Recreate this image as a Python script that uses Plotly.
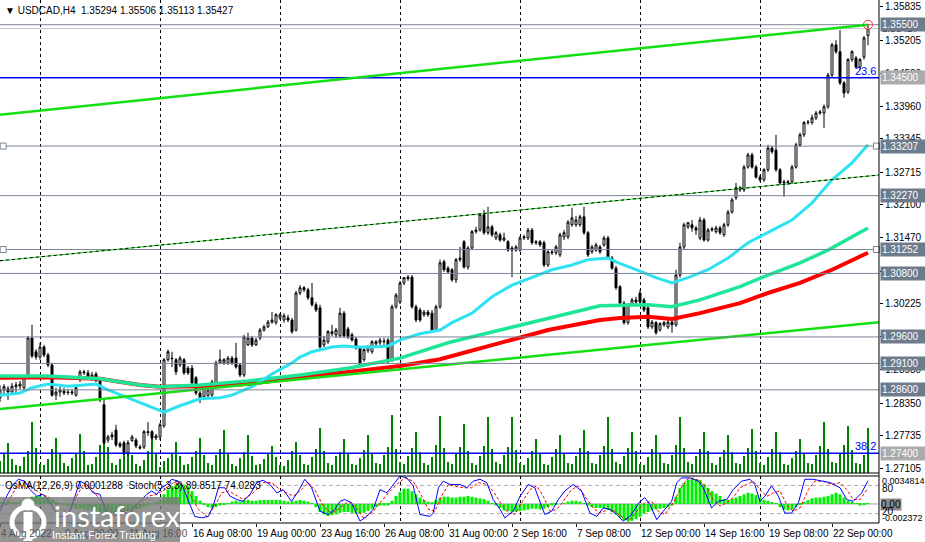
import plotly.graph_objects as go

# ---------------- data ----------------
label_idx = [0, 16, 32, 48, 64, 80, 96, 112, 128, 144, 160, 176, 192, 208]
label_txt = ["4 Aug 2022", "9 Aug 00:00", "11 Aug 16:00", "16 Aug 08:00", "19 Aug 00:00",
             "23 Aug 16:00", "26 Aug 08:00", "31 Aug 00:00", "2 Sep 16:00", "7 Sep 08:00",
             "12 Sep 00:00", "14 Sep 16:00", "19 Sep 08:00", "22 Sep 00:00"]

ohlc = [
(1.2845,1.2869,1.2837,1.2860),(1.2860,1.2871,1.2850,1.2866),(1.2862,1.2867,1.2841,1.2856),(1.2856,1.2873,1.2852,1.2867),
(1.2866,1.2875,1.2856,1.2869),(1.2867,1.2877,1.2860,1.2871),(1.2864,1.2888,1.2860,1.2884),(1.2884,1.2962,1.2881,1.2958),
(1.2958,1.2983,1.2920,1.2924),(1.2932,1.2937,1.2917,1.2922),(1.2922,1.2949,1.2917,1.2941),(1.2941,1.2945,1.2922,1.2926),
(1.2926,1.2930,1.2903,1.2907),(1.2907,1.2911,1.2847,1.2850),(1.2850,1.2864,1.2841,1.2856),(1.2856,1.2866,1.2847,1.2860),
(1.2854,1.2864,1.2850,1.2858),(1.2856,1.2862,1.2850,1.2855),(1.2854,1.2862,1.2850,1.2856),(1.2850,1.2869,1.2847,1.2864),
(1.2879,1.2898,1.2875,1.2894),(1.2892,1.2898,1.2888,1.2894),(1.2892,1.2898,1.2879,1.2883),(1.2883,1.2894,1.2877,1.2888),
(1.2890,1.2894,1.2875,1.2877),(1.2879,1.2883,1.2837,1.2841),(1.2832,1.2841,1.2756,1.2760),(1.2765,1.2775,1.2760,1.2771),
(1.2771,1.2781,1.2765,1.2775),(1.2784,1.2794,1.2752,1.2756),(1.2758,1.2762,1.2750,1.2754),(1.2760,1.2764,1.2737,1.2741),
(1.2741,1.2765,1.2735,1.2760),(1.2764,1.2775,1.2762,1.2771),(1.2765,1.2769,1.2750,1.2754),(1.2752,1.2756,1.2747,1.2750),
(1.2752,1.2784,1.2748,1.2781),(1.2779,1.2799,1.2773,1.2781),(1.2781,1.2784,1.2765,1.2769),(1.2769,1.2777,1.2765,1.2773),
(1.2771,1.2798,1.2765,1.2794),(1.2792,1.2920,1.2788,1.2917),(1.2917,1.2936,1.2913,1.2932),(1.2920,1.2932,1.2903,1.2919),
(1.2917,1.2920,1.2888,1.2894),(1.2907,1.2924,1.2903,1.2920),(1.2917,1.2920,1.2888,1.2892),(1.2901,1.2905,1.2888,1.2892),
(1.2901,1.2907,1.2869,1.2873),(1.2883,1.2886,1.2850,1.2854),(1.2854,1.2858,1.2835,1.2845),(1.2847,1.2869,1.2843,1.2866),
(1.2849,1.2864,1.2845,1.2860),(1.2850,1.2879,1.2847,1.2875),(1.2873,1.2915,1.2869,1.2911),(1.2911,1.2936,1.2909,1.2917),
(1.2911,1.2920,1.2907,1.2917),(1.2911,1.2924,1.2907,1.2920),(1.2920,1.2924,1.2907,1.2911),(1.2920,1.2949,1.2900,1.2903),
(1.2907,1.2911,1.2884,1.2888),(1.2888,1.2964,1.2884,1.2960),(1.2945,1.2968,1.2943,1.2958),(1.2958,1.2962,1.2941,1.2945),
(1.2945,1.2958,1.2943,1.2954),(1.2958,1.2977,1.2954,1.2973),(1.2973,1.2983,1.2970,1.2979),(1.2979,1.2992,1.2977,1.2988),
(1.2988,1.3007,1.2985,1.2992),(1.2987,1.3005,1.2983,1.3002),(1.2996,1.3005,1.2992,1.3002),(1.2992,1.3005,1.2987,1.3000),
(1.2996,1.3002,1.2988,1.2992),(1.2992,1.2996,1.2966,1.2970),(1.2973,1.3047,1.2970,1.3043),(1.3043,1.3058,1.3039,1.3053),
(1.3053,1.3056,1.3045,1.3049),(1.3049,1.3053,1.3030,1.3034),(1.3034,1.3062,1.3017,1.3021),(1.3021,1.3026,1.3007,1.3011),
(1.3015,1.3021,1.2936,1.2941),(1.2945,1.2962,1.2941,1.2954),(1.2951,1.2973,1.2947,1.2970),(1.2966,1.2983,1.2962,1.2970),
(1.2964,1.2977,1.2958,1.2973),(1.2962,1.3015,1.2958,1.3005),(1.3005,1.3009,1.2958,1.2962),(1.2975,1.2979,1.2956,1.2960),
(1.2964,1.2968,1.2951,1.2954),(1.2956,1.2960,1.2936,1.2939),(1.2939,1.2943,1.2903,1.2907),(1.2917,1.2939,1.2913,1.2936),
(1.2934,1.2945,1.2930,1.2941),(1.2932,1.2954,1.2928,1.2951),(1.2947,1.2954,1.2943,1.2951),(1.2949,1.2958,1.2945,1.2954),
(1.2951,1.2958,1.2945,1.2952),(1.2954,1.2958,1.2909,1.2913),(1.2917,1.3021,1.2913,1.3017),(1.3017,1.3043,1.3013,1.3039),
(1.3026,1.3066,1.3022,1.3062),(1.3062,1.3073,1.3058,1.3072),(1.3070,1.3077,1.3066,1.3073),(1.3073,1.3077,1.3013,1.3017),
(1.3017,1.3021,1.2988,1.2992),(1.3011,1.3015,1.2988,1.2992),(1.3002,1.3011,1.2998,1.3007),(1.3007,1.3011,1.2998,1.3002),
(1.3005,1.3011,1.2968,1.2973),(1.2973,1.3021,1.2970,1.3017),(1.3017,1.3106,1.3013,1.3100),(1.3102,1.3106,1.3083,1.3087),
(1.3090,1.3094,1.3079,1.3083),(1.3087,1.3090,1.3064,1.3068),(1.3068,1.3109,1.3062,1.3106),(1.3106,1.3130,1.3102,1.3109),
(1.3140,1.3143,1.3089,1.3092),(1.3092,1.3132,1.3087,1.3128),(1.3128,1.3162,1.3124,1.3159),(1.3159,1.3168,1.3155,1.3162),
(1.3162,1.3194,1.3159,1.3191),(1.3191,1.3200,1.3153,1.3157),(1.3157,1.3206,1.3153,1.3168),(1.3168,1.3172,1.3149,1.3153),
(1.3147,1.3160,1.3143,1.3157),(1.3153,1.3157,1.3140,1.3143),(1.3143,1.3157,1.3140,1.3147),(1.3140,1.3143,1.3121,1.3124),
(1.3128,1.3132,1.3073,1.3124),(1.3124,1.3134,1.3121,1.3130),(1.3124,1.3151,1.3121,1.3147),(1.3147,1.3153,1.3143,1.3149),
(1.3147,1.3166,1.3143,1.3162),(1.3162,1.3166,1.3134,1.3138),(1.3140,1.3143,1.3134,1.3138),(1.3140,1.3143,1.3130,1.3134),
(1.3138,1.3142,1.3092,1.3096),(1.3096,1.3124,1.3092,1.3121),(1.3121,1.3124,1.3115,1.3119),(1.3119,1.3134,1.3115,1.3130),
(1.3115,1.3157,1.3111,1.3153),(1.3149,1.3162,1.3143,1.3157),(1.3149,1.3181,1.3145,1.3177),(1.3172,1.3204,1.3168,1.3185),
(1.3172,1.3189,1.3168,1.3181),(1.3172,1.3191,1.3168,1.3187),(1.3187,1.3206,1.3153,1.3157),(1.3157,1.3160,1.3111,1.3115),
(1.3121,1.3134,1.3117,1.3130),(1.3124,1.3138,1.3121,1.3134),(1.3130,1.3134,1.3117,1.3121),(1.3134,1.3151,1.3130,1.3147),
(1.3147,1.3151,1.3106,1.3109),(1.3109,1.3113,1.3087,1.3090),(1.3090,1.3094,1.3049,1.3053),(1.3055,1.3058,1.3021,1.3024),
(1.3024,1.3028,1.2983,1.2987),(1.2987,1.3024,1.2983,1.3021),(1.3021,1.3034,1.3017,1.3030),(1.3030,1.3036,1.3021,1.3026),
(1.3043,1.3049,1.3022,1.3026),(1.3030,1.3034,1.3007,1.3011),(1.3015,1.3019,1.2975,1.2979),(1.2979,1.2992,1.2975,1.2988),
(1.2987,1.2990,1.2964,1.2968),(1.2973,1.2988,1.2970,1.2985),(1.2983,1.2990,1.2979,1.2987),(1.2979,1.2992,1.2975,1.2988),
(1.2988,1.2996,1.2968,1.2983),(1.2983,1.3087,1.2979,1.3077),(1.3077,1.3138,1.3072,1.3130),(1.3130,1.3176,1.3126,1.3172),
(1.3168,1.3177,1.3164,1.3176),(1.3172,1.3181,1.3159,1.3166),(1.3166,1.3170,1.3153,1.3162),(1.3147,1.3187,1.3143,1.3181),
(1.3181,1.3185,1.3140,1.3143),(1.3143,1.3166,1.3140,1.3162),(1.3162,1.3168,1.3159,1.3164),(1.3159,1.3170,1.3155,1.3166),
(1.3166,1.3170,1.3153,1.3157),(1.3153,1.3176,1.3149,1.3172),(1.3172,1.3200,1.3168,1.3196),(1.3196,1.3223,1.3193,1.3219),
(1.3223,1.3251,1.3219,1.3242),(1.3238,1.3245,1.3234,1.3242),(1.3238,1.3285,1.3234,1.3281),(1.3281,1.3308,1.3278,1.3304),
(1.3304,1.3308,1.3278,1.3281),(1.3281,1.3285,1.3259,1.3262),(1.3262,1.3266,1.3253,1.3257),(1.3257,1.3279,1.3253,1.3276),
(1.3276,1.3323,1.3272,1.3317),(1.3317,1.3321,1.3306,1.3310),(1.3313,1.3342,1.3272,1.3276),(1.3276,1.3279,1.3247,1.3251),
(1.3251,1.3257,1.3225,1.3253),(1.3251,1.3257,1.3247,1.3253),(1.3253,1.3285,1.3249,1.3281),(1.3281,1.3327,1.3278,1.3323),
(1.3323,1.3346,1.3319,1.3342),(1.3342,1.3368,1.3338,1.3365),(1.3365,1.3370,1.3361,1.3366),(1.3365,1.3380,1.3361,1.3374),
(1.3374,1.3387,1.3370,1.3383),(1.3383,1.3389,1.3380,1.3385),(1.3383,1.3399,1.3355,1.3395),(1.3395,1.3459,1.3391,1.3455),
(1.3455,1.3516,1.3451,1.3512),(1.3512,1.3521,1.3495,1.3499),(1.3499,1.3540,1.3436,1.3440),(1.3440,1.3444,1.3412,1.3421),
(1.3423,1.3487,1.3419,1.3484),(1.3484,1.3502,1.3480,1.3499),(1.3487,1.3491,1.3467,1.3470),(1.3470,1.3487,1.3465,1.3484),
(1.3489,1.3529,1.3484,1.3525),(1.35294,1.35506,1.35113,1.35427),
]
opens = [r[0] for r in ohlc]
highs = [r[1] for r in ohlc]
lows = [r[2] for r in ohlc]
closes = [r[3] for r in ohlc]
bars = list(range(len(ohlc)))

volumes = [1200,2000,3000,1400, 800,700,1600,2200,5100,2500, 900,800,1400,2400,3500,2000,
 1000,700,1500,2000,3900,2200, 800,900,1600,2800,4900,2600, 1000,800,1400,2000,2900,1800,
 900,700,1300,2200,4000,1900, 600,1200,1500,2000,3100,1700, 800,900,1600,2200,3500,1800,
 1000,800,1800,2400,4300,2000, 900,700,1500,2100,3800,1700, 800,900,1400,2000,2700,1600,
 800,700,1300,2200,3100,1800, 900,800,1600,2400,4500,2200, 1000,800,1700,2100,3400,1900,
 900,800,1500,2300,3800,2000, 1000,900,1800,2600,5800,2400, 1100,900,1700,2500,4100,2100,
 1000,800,1600,2800,5700,2500, 1100,900,1900,2600,4900,2200, 1000,800,1700,2700,5600,2400,
 1100,900,1800,2600,5600,2300, 1000,800,1500,2200,3400,1900, 900,800,1600,2400,3800,2000,
 1000,900,1700,2500,4300,2200, 1000,900,1800,2700,5600,2400, 1100,900,1700,2500,4100,2200,
 900,800,1600,2400,3800,2000, 1000,900,1800,2800,5600,2500, 1100,900,1700,2400,4100,2200,
 1000,800,1600,2300,3800,2100, 1000,900,1700,2500,4400,2200, 1000,800,1600,2400,4100,2100,
 900,800,1500,2200,3400,1900, 1000,900,1800,2700,5100,2400, 1100,1000,1900,2800,4700,2300,
 1000,900,1800,4500]

cyan_idx = [0,5,8,12,17,21,24,27,32,37,41,45,50,55,58,63,68,73,75,78,83,86,89,93,97,100,105,110,113,118,
            123,128,133,138,143,147,152,154,159,164,168,172,177,182,187,192,198,203,208,213,217]
cyan_val = [1.2850,1.2854,1.2864,1.2871,1.2867,1.2869,1.2871,1.2860,1.2845,1.2830,1.2818,1.2830,1.2843,1.2845,
            1.2850,1.2866,1.2890,1.2911,1.2922,1.2932,1.2941,1.2943,1.2941,1.2941,1.2943,1.2954,1.2966,1.2973,
            1.2987,1.3005,1.3036,1.3058,1.3073,1.3087,1.3096,1.3106,1.3109,1.3102,1.3087,1.3072,1.3062,1.3072,
            1.3087,1.3109,1.3138,1.3157,1.3181,1.3213,1.3257,1.3289,1.3323]
spring_idx = [0,12,25,35,40,50,62,70,75,87,100,112,125,137,150,162,168,175,185,192,200,207,217]
spring_val = [1.2886,1.2886,1.2881,1.2869,1.2866,1.2869,1.2877,1.2884,1.2888,1.2901,1.2920,1.2949,1.2973,
              1.2996,1.3019,1.3021,1.3017,1.3030,1.3055,1.3077,1.3100,1.3124,1.3166]
red_idx = [0,12,25,35,40,50,62,70,75,87,100,110,125,137,150,155,162,168,175,185,192,200,208,217]
red_val = [1.2883,1.2884,1.2881,1.2869,1.2866,1.2867,1.2871,1.2879,1.2884,1.2894,1.2905,1.2918,1.2949,1.2973,
           1.2992,1.2996,1.2998,1.2994,1.3005,1.3024,1.3043,1.3062,1.3087,1.3119]

upper_line = ([0, 217], [1.3380, 1.3550])
mid_line = ([0, 219.75], [1.3104, 1.3266])
low_line = ([0, 219.75], [1.2824, 1.2988])

grey_levels = [1.35500, 1.33207, 1.32270, 1.31252, 1.30800, 1.29600, 1.29100, 1.28600]
fib_levels = [1.34500, 1.27400]
fib_names = ["23.6", "38.2"]
bid = 1.35427
price_ticks = [1.35835, 1.35205, 1.34580, 1.33960, 1.33345, 1.32715, 1.32100, 1.31470, 1.30845,
               1.30225, 1.29600, 1.28980, 1.28350, 1.27735, 1.27105]

osma = [0.0002,0.0002,0.0003,0.0002,0.0002,0.0003,0.0004,
 0.0007,0.0009,0.0010,0.0010,0.0009,0.0008,
 0.0005,0.0003,0.0001,-0.0001,
 -0.0003,-0.0004,-0.0006,-0.0006,-0.0007,-0.0008,-0.0008,-0.0009,-0.0010,-0.0012,-0.0012,
 -0.0012,-0.0011,-0.0010,-0.0010,-0.0009,-0.0008,-0.0007,-0.0006,-0.0004,
 -0.0002,0.0000,0.0002,0.0004,
 0.0012,0.0018,0.0022,0.0024,0.0025,0.0024,0.0022,
 0.0016,0.0010,0.0004,-0.0001,
 -0.0004,-0.0005,-0.0004,-0.0002,-0.0001,0.0001,
 0.0003,0.0004,0.0003,0.0005,0.0005,0.0004,0.0004,0.0005,0.0005,0.0005,0.0005,0.0005,0.0005,0.0004,0.0003,0.0003,0.0004,
 0.0005,0.0004,0.0003,0.0001,
 -0.0004,-0.0010,-0.0013,-0.0015,-0.0014,-0.0013,-0.0011,-0.0010,-0.0010,-0.0011,-0.0012,-0.0012,-0.0011,-0.0009,-0.0006,-0.0004,
 -0.0002,-0.0002,-0.0002,
 0.0004,0.0010,0.0015,0.0019,0.0019,0.0016,0.0012,
 0.0008,0.0005,0.0003,0.0002,
 0.0005,0.0008,0.0009,0.0009,0.0008,0.0008,0.0009,
 0.0009,0.0010,0.0009,0.0008,0.0007,0.0006,0.0004,
 0.0001,-0.0002,-0.0005,
 -0.0008,-0.0009,-0.0010,-0.0010,-0.0009,-0.0008,-0.0007,-0.0006,-0.0006,-0.0007,-0.0006,-0.0004,-0.0002,-0.0001,0.0000,
 0.0001,0.0003,0.0004,0.0004,0.0003,0.0001,
 -0.0002,-0.0004,-0.0005,-0.0005,-0.0005,-0.0007,-0.0010,-0.0013,-0.0017,-0.0020,-0.0022,-0.0021,-0.0019,-0.0016,-0.0012,-0.0010,
 -0.0008,-0.0007,-0.0006,-0.0005,-0.0004,-0.0002,
 0.0009,0.0020,0.0026,0.0030,0.0031,0.0031,0.0030,0.0025,0.0020,0.0016,0.0013,0.0010,0.0006,
 0.0005,0.0006,0.0008,0.0010,0.0012,0.0014,0.0013,0.0011,0.0008,
 0.0005,0.0004,0.0002,0.0001,
 -0.0004,-0.0007,-0.0008,-0.0007,-0.0004,
 -0.0001,0.0002,0.0005,0.0007,0.0008,0.0008,0.0009,0.0010,0.0012,
 0.0014,0.0012,0.0008,0.0004,
 0.0002,0.0001,-0.0002,-0.0001,0.0001]

stoch_main_idx = [0,1.2,3.3,4.6,6.2,7.5,9.2,10.8,12.5,14.6,16.7,17.9,20,21.7,23.3,25,26.7,28.3,30.4,32.1,33.3,35,
 36.7,37.9,39.2,40.4,41.7,42.9,44.6,45.8,47.1,48.7,50.4,52.1,53.3,54.6,56.2,57.5,59.2,60.8,62.5,64.2,65.8,67.5,
 69.2,70.8,72.9,74.6,76.2,77.9,80,82.1,83.7,85,86.2,87.9,90,91.7,93.3,95,96.7,98.3,100,101.7,103.3,105,107.5,
 108.3,109.6,110.8,112.5,115,116.7,118.3,120,121.7,123.3,125,126.2,128.3,130,132.1,133.7,135.4,136.2,137.9,139.6,
 141.2,143.3,145.4,147.5,149.2,150.8,152.5,154.2,155.8,157.5,160,161.2,162.5,164.2,165.8,167.9,169.2,170.4,172.5,
 174.6,175.8,177.9,179.6,181.7,183.3,185.4,187.5,188.7,190,191.2,192.9,194.6,196.2,197.9,199.6,201.2,203.3,205.4,
 207.5,210,211.7,213.3,215.4,217]
stoch_main_val = [25,50,82,93,89,71,57,61,43,14,14,36,89,82,64,61,21,14,25,18,32,46,
 61,68,61,75,82,93,89,75,46,14,11,14,36,75,75,57,50,46,61,86,91,82,
 64,71,46,68,93,75,25,18,29,46,50,43,4,14,29,71,64,82,100,96,79,18,14,
 21,75,89,82,82,75,89,93,86,50,29,11,25,57,82,75,36,18,25,50,
 68,82,68,21,14,32,29,18,4,14,46,54,39,7,25,46,86,96,96,
 89,75,32,46,50,71,89,93,82,46,57,79,57,21,21,43,93,93,89,
 86,75,50,46,64,89.85]
stoch_sig_idx = [0,1.7,4.2,6.2,8.3,10.4,12.5,15.4,17.5,18.7,20.8,22.9,25,27.5,29.6,31.7,33.3,35,37.1,39.2,41.2,
 43.3,45.4,47.5,49.6,51.7,53.7,55.4,57.1,58.7,60.8,63.3,65.8,67.9,70,71.7,73.3,75.4,77.1,78.7,80.8,82.9,85,87.1,
 89.2,90.8,92.9,95,97.1,99.2,101.2,103.3,105,107.1,108.7,110.4,112.1,115.8,117.9,119.6,121.7,123.3,125.4,127.1,
 128.7,130.4,132.5,134.2,135.8,137.5,139.2,140.8,142.9,144.6,146.2,148.3,150,152.1,153.7,155.8,157.5,159.2,161.2,
 162.9,164.6,166.2,168.3,170,171.7,173.3,175,176.7,178.3,180,181.7,183.3,185,186.7,188.3,190,191.7,193.3,195,
 196.7,198.3,200,202.1,203.7,205.8,207.9,210,211.7,213.3,215,216.7,217]
stoch_sig_val = [35,39,79,86,75,61,54,29,21,50,82,71,50,29,18,29,25,39,57,61,71,
 86,82,61,29,14,36,64,68,61,50,64,86,86,71,64,57,71,86,71,36,21,32,46,
 32,11,21,43,64,82,96,89,64,29,25,57,82,75,75,86,82,68,39,21,
 18,43,71,79,57,25,29,46,71,79,57,32,21,29,25,11,7,25,43,
 46,25,18,43,71,93,96,89,75,50,36,43,54,75,82,89,71,57,64,68,
 39,25,32,71,89,89,82,86,71,50,50,71,74.03]

assert len(ohlc) == 218 and len(volumes) == 218 and len(osma) == 218
assert len(stoch_main_idx) == len(stoch_main_val) and len(stoch_sig_idx) == len(stoch_sig_val)

# ---------------- geometry (pixels) ----------------
W, H = 925, 542
PLOT_H = 523
MAIN_BOTTOM = 473
OSC_TOP = 476
XMAX = 219.75
P_TOP, P_BOT = 1.35967, 1.27029


def py(pix):
    return (PLOT_H - pix) / PLOT_H


FONT = "Liberation Sans, Arial, sans-serif"
fig = go.Figure()

# volume (base axis of main pane, drawn under everything)
fig.add_trace(go.Bar(x=bars, y=volumes, xaxis="x", yaxis="y", marker=dict(color="#008000", line=dict(width=0)),
                     width=0.25, hoverinfo="skip"))

# moving averages
fig.add_trace(go.Scatter(x=red_idx, y=red_val, xaxis="x", yaxis="y2", mode="lines",
                         line=dict(color="#FF0000", width=4), hoverinfo="skip"))
fig.add_trace(go.Scatter(x=spring_idx, y=spring_val, xaxis="x", yaxis="y2", mode="lines",
                         line=dict(color="#1EE699", width=3.5), hoverinfo="skip"))
fig.add_trace(go.Scatter(x=cyan_idx, y=cyan_val, xaxis="x", yaxis="y2", mode="lines",
                         line=dict(color="#2DE3F2", width=3), hoverinfo="skip"))

# trend lines
fig.add_trace(go.Scatter(x=low_line[0], y=low_line[1], xaxis="x", yaxis="y2", mode="lines",
                         line=dict(color="#12E012", width=2.5), hoverinfo="skip"))

# candles
fig.add_trace(go.Candlestick(x=bars, open=opens, high=highs, low=lows, close=closes, xaxis="x", yaxis="y2",
                             increasing=dict(line=dict(color="black", width=1), fillcolor="white"),
                             decreasing=dict(line=dict(color="black", width=1), fillcolor="black"),
                             whiskerwidth=0, hoverinfo="skip"))

# horizontal levels
for lv in grey_levels:
    fig.add_trace(go.Scatter(x=[0, XMAX], y=[lv, lv], xaxis="x", yaxis="y2", mode="lines",
                             line=dict(color="#7A8595", width=1), hoverinfo="skip"))
fig.add_trace(go.Scatter(x=[0, XMAX], y=[bid, bid], xaxis="x", yaxis="y2", mode="lines",
                         line=dict(color="#C8C8C8", width=1), hoverinfo="skip"))
for lv in fib_levels:
    fig.add_trace(go.Scatter(x=[0, XMAX], y=[lv, lv], xaxis="x", yaxis="y2", mode="lines",
                             line=dict(color="#0000FF", width=1.5), hoverinfo="skip"))

fig.add_trace(go.Scatter(x=mid_line[0], y=mid_line[1], xaxis="x", yaxis="y2", mode="lines",
                         line=dict(color="#22DD22", width=1), hoverinfo="skip"))
fig.add_trace(go.Scatter(x=mid_line[0], y=mid_line[1], xaxis="x", yaxis="y2", mode="lines",
                         line=dict(color="black", width=1, dash="3px,3px"), hoverinfo="skip"))
fig.add_trace(go.Scatter(x=upper_line[0], y=upper_line[1], xaxis="x", yaxis="y2", mode="lines",
                         line=dict(color="#12E012", width=2.5), hoverinfo="skip"))
fig.add_trace(go.Scatter(x=[upper_line[0][1]], y=[upper_line[1][1]], xaxis="x", yaxis="y2", mode="markers",
                         marker=dict(symbol="circle-open-dot", size=9, color="#FF3030", line=dict(width=1)),
                         hoverinfo="skip"))
sq_levels = [1.33207, 1.31252]
fig.add_trace(go.Scatter(x=[0.8, 0.8, 219.1, 219.1], y=[sq_levels[0], sq_levels[1], sq_levels[0], sq_levels[1]],
                         xaxis="x", yaxis="y2", mode="markers", cliponaxis=False,
                         marker=dict(symbol="square", size=6, color="white", line=dict(color="#7A8595", width=1)),
                         hoverinfo="skip"))

# oscillator pane
fig.add_trace(go.Bar(x=bars, y=osma, xaxis="x2", yaxis="y3", marker=dict(color="#00EE00", line=dict(width=0)),
                     width=0.75, hoverinfo="skip"))
fig.add_trace(go.Scatter(x=stoch_sig_idx, y=stoch_sig_val, xaxis="x2", yaxis="y4", mode="lines",
                         line=dict(color="#FF0000", width=1, dash="3px,2px"), hoverinfo="skip"))
fig.add_trace(go.Scatter(x=stoch_main_idx, y=stoch_main_val, xaxis="x2", yaxis="y4", mode="lines",
                         line=dict(color="#0000FF", width=1), hoverinfo="skip"))

grid_vals = [10, 40, 70, 100, 130, 160, 190]
minor = dict(tickmode="array", tickvals=grid_vals, showgrid=True, gridcolor="black", griddash="3px,3px",
             gridwidth=1, ticks="")

fig.update_layout(
    width=W, height=H, margin=dict(l=0, r=W - 879, t=0, b=H - PLOT_H),
    paper_bgcolor="white", plot_bgcolor="white", showlegend=False, barmode="overlay",
    font=dict(family=FONT, size=10, color="black"),
    xaxis=dict(domain=[0, 1], range=[0, XMAX], anchor="y", showticklabels=False, showgrid=False,
               zeroline=False, ticks="", minor=minor),
    xaxis2=dict(domain=[0, 1], range=[0, XMAX], anchor="y3", matches="x", showticklabels=False,
                showgrid=False, zeroline=False, tickmode="array", tickvals=label_idx, ticks="outside",
                ticklen=3, tickcolor="black", minor=minor),
    yaxis=dict(domain=[py(MAIN_BOTTOM), 1], range=[0, 47300], visible=False, fixedrange=True),
    yaxis2=dict(domain=[py(MAIN_BOTTOM), 1], range=[P_BOT, P_TOP], overlaying="y", side="right",
                anchor="x", tickmode="array", tickvals=price_ticks, ticktext=[f"{v:.5f}" for v in price_ticks],
                ticks="outside", ticklen=3, tickcolor="black", showgrid=False, zeroline=False, automargin=False,
                tickfont=dict(family=FONT, size=10, color="black")),
    yaxis3=dict(domain=[0, py(OSC_TOP)], range=[-0.002372, 0.0034814], visible=False, anchor="x2"),
    yaxis4=dict(domain=[0, py(OSC_TOP)], range=[0, 100], overlaying="y3", visible=False, anchor="x2"),
)
fig.update_xaxes(rangeslider_visible=False)

shapes = []
# pane borders
shapes.append(dict(type="line", xref="paper", yref="paper", x0=1, x1=1, y0=0, y1=1, line=dict(color="black", width=1)))
shapes.append(dict(type="line", xref="paper", yref="paper", x0=0, x1=1, y0=py(MAIN_BOTTOM), y1=py(MAIN_BOTTOM),
                   line=dict(color="black", width=1)))
shapes.append(dict(type="line", xref="paper", yref="paper", x0=0, x1=1, y0=py(OSC_TOP), y1=py(OSC_TOP),
                   line=dict(color="black", width=1)))
shapes.append(dict(type="line", xref="paper", yref="paper", x0=0, x1=1, y0=0, y1=0, line=dict(color="black", width=1)))
# oscillator levels
shapes.append(dict(type="line", xref="paper", yref="y3", x0=0, x1=1, y0=0, y1=0, layer="below",
                   line=dict(color="#A0A0A0", width=1)))
for lv in (80, 20):
    shapes.append(dict(type="line", xref="paper", yref="y4", x0=0, x1=1, y0=lv, y1=lv, layer="below",
                       line=dict(color="#B0B0B0", width=1, dash="4px,3px")))
# watermark
wm_x1 = 180 / 879
shapes.append(dict(type="rect", xref="paper", yref="paper", x0=0, x1=wm_x1, y0=py(542), y1=py(497),
                   fillcolor="rgba(118,118,118,0.78)", line=dict(width=0), layer="above"))
# watermark icon (ring + head + body)
shapes.append(dict(type="circle", xref="paper", yref="paper", x0=12 / 879, x1=44 / 879, y0=py(537), y1=py(507),
                   line=dict(color="white", width=5), fillcolor="rgba(0,0,0,0)", layer="above"))
shapes.append(dict(type="circle", xref="paper", yref="paper", x0=22 / 879, x1=34 / 879, y0=py(510), y1=py(499),
                   line=dict(color="white", width=1), fillcolor="white", layer="above"))
shapes.append(dict(type="rect", xref="paper", yref="paper", x0=23.5 / 879, x1=32.5 / 879, y0=py(541), y1=py(512),
                   line=dict(color="white", width=0), fillcolor="white", layer="above"))
fig.update_layout(shapes=shapes)

ann = []
# title
ann.append(dict(xref="paper", yref="paper", x=0, y=1, xanchor="left", yanchor="top", xshift=3, yshift=-3,
                text="\u25BC\u00a0USDCAD,H4\u00a0\u00a01.35294\u00a01.35506\u00a01.35113\u00a01.35427",
                showarrow=False, font=dict(family=FONT, size=10, color="black")))
# fib labels
for lv, nm in zip(fib_levels, fib_names):
    ann.append(dict(xref="paper", yref="y2", x=1, y=lv, xanchor="right", yanchor="bottom", xshift=-1, yshift=-1,
                    text=nm, showarrow=False, font=dict(family=FONT, size=11, color="#0000FF")))


def box(level, text, bg, fg):
    return dict(xref="paper", yref="y2", x=1, y=level, xanchor="left", yanchor="middle", xshift=1,
                text=text, showarrow=False, bgcolor=bg, width=42, height=11, borderpad=1, align="left",
                font=dict(family=FONT, size=10, color=fg))


ann.append(box(bid, f"{bid:.5f}", "white", "black"))
for lv in grey_levels:
    ann.append(box(lv, f"{lv:.5f}", "#6E7B8B", "white"))
for lv in fib_levels:
    ann.append(box(lv, f"{lv:.5f}", "#ABABAB", "white"))

# oscillator texts
ann.append(dict(xref="paper", yref="paper", x=0, y=py(485), xanchor="left", yanchor="middle", xshift=3,
                text="OsMA(12,26,9)\u00a00.0001288\u00a0\u00a0Stoch(5,3,3)\u00a089.8517\u00a074.0283",
                showarrow=False, font=dict(family=FONT, size=10, color="black")))
ann.append(dict(xref="paper", yref="paper", x=1, y=py(504), xanchor="left", yanchor="middle", xshift=1,
                text="0.00", showarrow=False, bgcolor="#8A8A8A", borderpad=0,
                font=dict(family=FONT, size=10, color="black")))
osc_right = [("80", 488, 10), ("20", 511, 10), ("0.0034814", 481, 9), ("-0.002372", 518, 9)]
for t, yy, fs in osc_right:
    ann.append(dict(xref="paper", yref="paper", x=1, y=py(yy), xanchor="left", yanchor="middle", xshift=1,
                    text=t, showarrow=False, font=dict(family=FONT, size=fs, color="black")))

# x labels
for i, t in zip(label_idx, label_txt):
    under_wm = i * 4 < 180
    ann.append(dict(xref="x2", yref="paper", x=i, y=0, xanchor="left", yanchor="top", yshift=-3, xshift=-1,
                    text=t, showarrow=False,
                    font=dict(family=FONT, size=10, color="#555555" if under_wm else "black")))

# watermark texts
ann.append(dict(xref="paper", yref="paper", x=52 / 879, y=py(515), xanchor="left", yanchor="middle",
                text="instaforex", showarrow=False, font=dict(family="Lato, Liberation Sans", size=29, color="white")))
ann.append(dict(xref="paper", yref="paper", x=50 / 879, y=py(535), xanchor="left", yanchor="middle",
                text="Instant Forex Trading", showarrow=False, font=dict(family=FONT, size=11, color="white")))
fig.update_layout(annotations=ann)

fig.write_html("out.html", include_plotlyjs=True, config={"displayModeBar": False},
               post_script="document.body.style.margin='0px';document.body.style.overflow='hidden';")
